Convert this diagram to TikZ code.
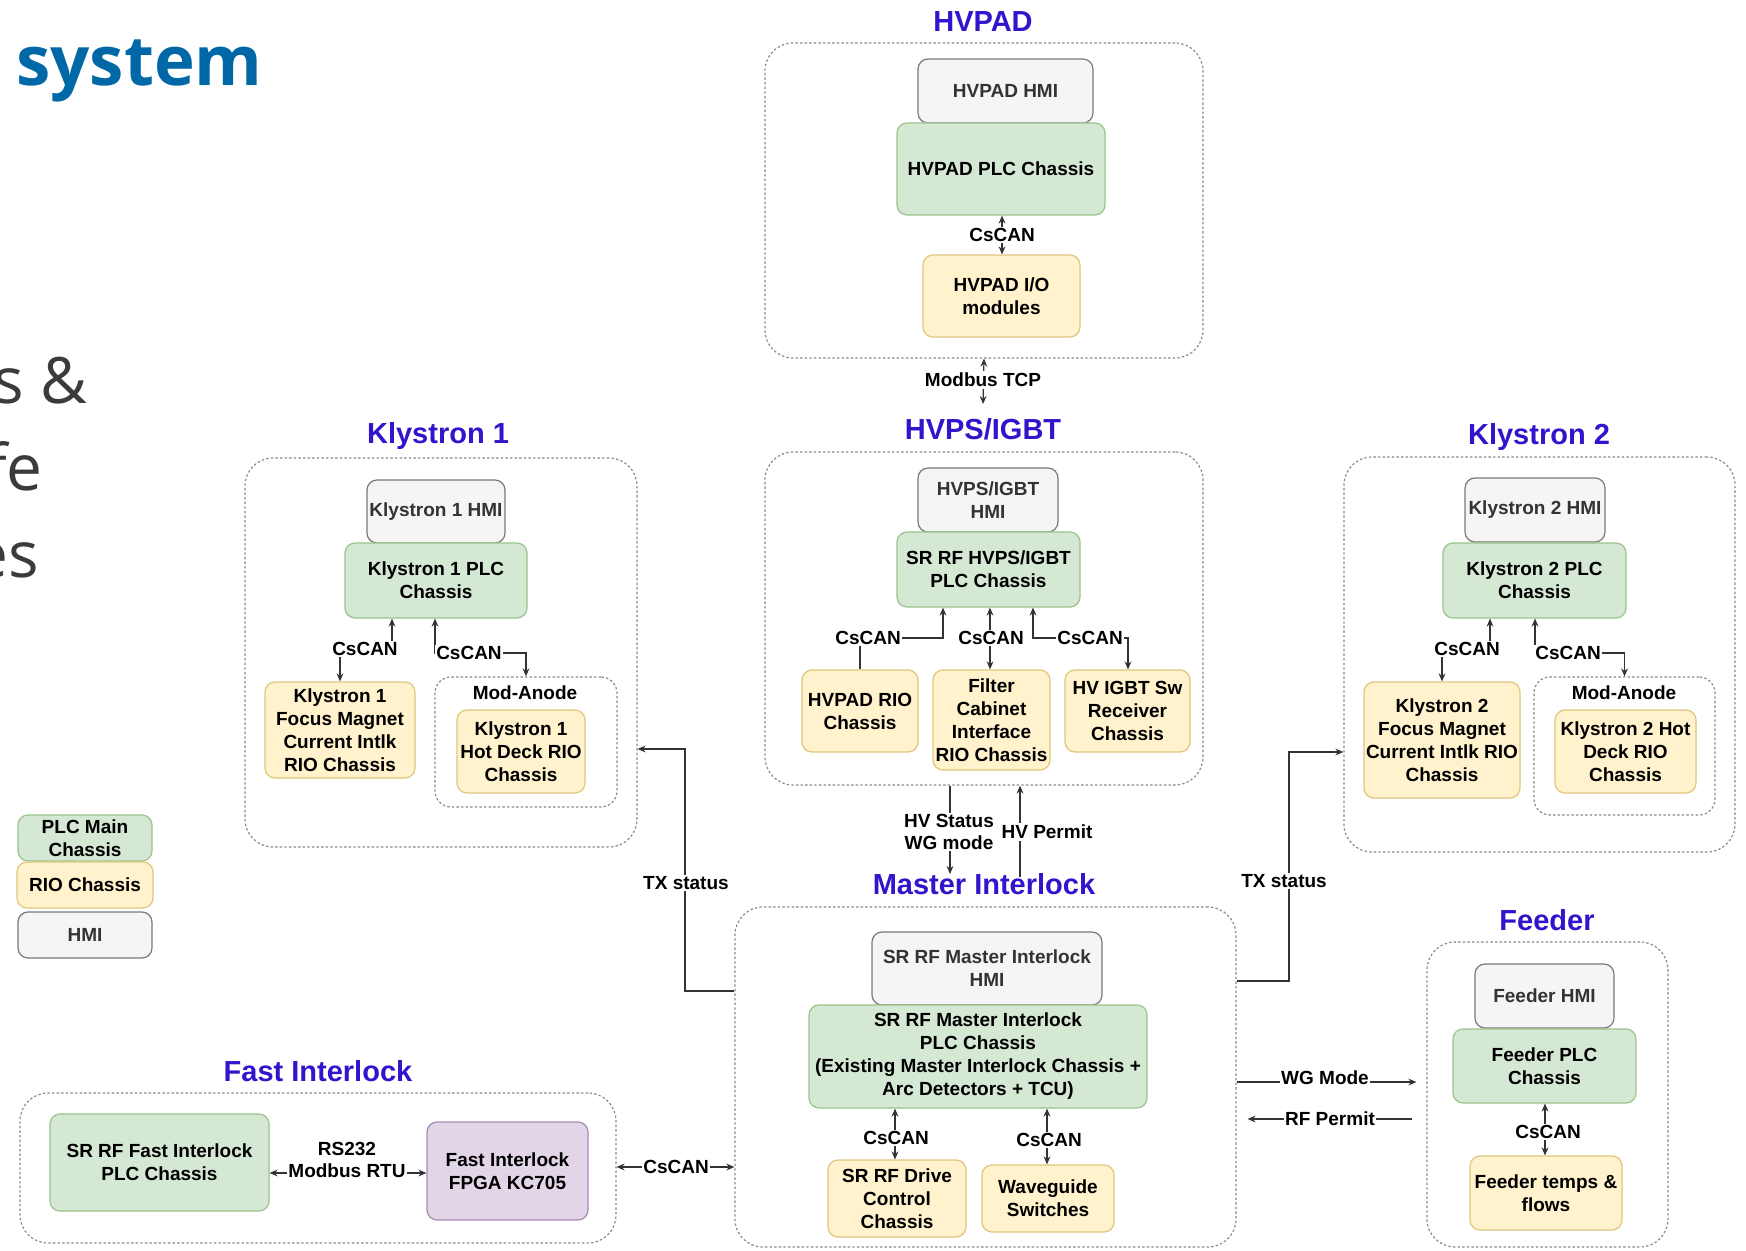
\documentclass[tikz,border=0pt]{standalone}
\usepackage{fontspec}
\setmainfont{Liberation Sans}
\newfontfamily\slidefont{Open Sans}
\usetikzlibrary{arrows.meta}

\definecolor{plcfill}{HTML}{D5E8D4}
\definecolor{plcline}{HTML}{9CC38B}
\definecolor{riofill}{HTML}{FFF2CC}
\definecolor{rioline}{HTML}{E0C77E}
\definecolor{hmifill}{HTML}{F5F5F5}
\definecolor{hmiline}{HTML}{7A7A7A}
\definecolor{fpgafill}{HTML}{E1D5E7}
\definecolor{fpgaline}{HTML}{A68BB6}
\definecolor{grpline}{HTML}{8A8A8A}
\definecolor{titleblue}{HTML}{3314CC}
\definecolor{slideblue}{HTML}{0068A6}
\definecolor{slidegray}{HTML}{3B3B3B}
\definecolor{wire}{HTML}{333333}

% box from its corners: style, name, x1, y1, x2, y2, text
\newcommand\blk[7]{\node[#1, minimum width={(#5-#3)*0.5pt}, minimum height={(#6-#4)*0.5pt}] (#2) at ({(#3+#5)/2},{(#4+#6)/2}) {#7};}

\tikzset{
  >={Stealth[length=4pt,width=3.4pt]},
  box/.style={rounded corners=5pt, line width=0.6pt, align=center, inner sep=1pt,
    font=\bfseries\fontsize{9.5}{11.5}\selectfont},
  plc/.style={box, fill=plcfill, draw=plcline},
  rio/.style={box, fill=riofill, draw=rioline},
  hmi/.style={box, fill=hmifill, draw=hmiline, text=black!80},
  fpga/.style={box, fill=fpgafill, draw=fpgaline},
  grp/.style={draw=grpline, line width=0.6pt, dash pattern=on 1.2pt off 1.1pt,
    rounded corners=14pt, inner sep=0pt},
  subgrp/.style={grp, rounded corners=8pt},
  ttl/.style={text=titleblue, font=\bfseries\fontsize{14.5}{16}\selectfont, inner sep=0pt},
  lbl/.style={fill=white, inner sep=0.8pt, align=center, font=\bfseries\fontsize{9.5}{11}\selectfont},
  plain/.style={inner sep=0pt, font=\bfseries\fontsize{9.5}{11}\selectfont},
  link/.style={draw=wire, line width=0.6pt},
  slidetext/.style={anchor=base east, inner sep=0pt, text=slidegray,
    font=\slidefont\fontsize{32}{36}\selectfont},
}

\begin{document}
\begin{tikzpicture}[x=0.5pt, y=-0.5pt]
\clip (0,0) rectangle (1746,1251);
\fill[white] (0,0) rectangle (1746,1251);

% slide text at the left edge
\node[anchor=base west, inner sep=0pt, text=slideblue, font=\slidefont\bfseries\fontsize{34.5}{38}\selectfont] (slidetitle) at (16,86) {system};
\node[slidetext] (slideA) at (88,404) {s \&};
\node[slidetext] (slideB) at (43,491) {fe};
\node[slidetext] (slideC) at (39,577) {es};

% ---------- groups ----------
\blk{grp}{gHVPAD}{765}{43}{1203}{358}{}
\blk{grp}{gHVPS}{765}{452}{1203}{785}{}
\blk{grp}{gK1}{245}{458}{637}{847}{}
\blk{subgrp}{gMA1}{435}{677}{617}{807}{}
\blk{grp}{gK2}{1344}{457}{1735}{852}{}
\blk{subgrp}{gMA2}{1534}{677}{1715}{815}{}
\blk{grp}{gMI}{735}{907}{1236}{1247}{}
\blk{grp}{gFD}{1427}{942}{1668}{1247}{}
\blk{grp}{gFI}{20}{1093}{616}{1243}{}

% ---------- titles ----------
\node[ttl] (tHVPAD) at (983,22) {HVPAD};
\node[ttl] (tHVPS) at (983,429) {HVPS/IGBT};
\node[ttl] (tK1) at (438,436) {Klystron 1};
\node[ttl] (tK2) at (1539,437) {Klystron 2};
\node[ttl] (tMI) at (984,884) {Master Interlock};
\node[ttl] (tFD) at (1547,920) {Feeder};
\node[ttl] (tFI) at (318,1071) {Fast Interlock};
\node[plain] (tMA1) at (525,693) {Mod-Anode};
\node[plain] (tMA2) at (1624,693) {Mod-Anode};

% ---------- HVPAD ----------
\blk{hmi}{hvpadHMI}{918}{59}{1093}{123}{HVPAD HMI}
\blk{plc}{hvpadPLC}{897}{123}{1105}{215}{HVPAD PLC Chassis}
\blk{rio}{hvpadIO}{923}{255}{1080}{337}{HVPAD I/O\\modules}

% ---------- HVPS/IGBT ----------
\blk{hmi}{hvpsHMI}{918}{468}{1058}{532}{HVPS/IGBT\\HMI}
\blk{plc}{hvpsPLC}{897}{532}{1080}{607}{SR RF HVPS/IGBT\\PLC Chassis}
\blk{rio}{hvpadRIO}{802}{670}{918}{752}{HVPAD RIO\\Chassis}
\blk{rio}{filterRIO}{933}{670}{1050}{770}{Filter\\Cabinet\\Interface\\RIO Chassis}
\blk{rio}{igbtRIO}{1065}{670}{1190}{752}{HV IGBT Sw\\Receiver\\Chassis}

% ---------- Klystron 1 ----------
\blk{hmi}{k1HMI}{367}{480}{505}{543}{Klystron 1 HMI}
\blk{plc}{k1PLC}{345}{543}{527}{618}{Klystron 1 PLC\\Chassis}
\blk{rio}{k1Focus}{265}{682}{415}{778}{Klystron 1\\Focus Magnet\\Current Intlk\\RIO Chassis}
\blk{rio}{k1Hot}{457}{710}{585}{793}{Klystron 1\\Hot Deck RIO\\Chassis}

% ---------- Klystron 2 ----------
\blk{hmi}{k2HMI}{1465}{478}{1605}{542}{Klystron 2 HMI}
\blk{plc}{k2PLC}{1443}{543}{1626}{618}{Klystron 2 PLC\\Chassis}
\blk{rio}{k2Focus}{1364}{682}{1520}{798}{Klystron 2\\Focus Magnet\\Current Intlk RIO\\Chassis}
\blk{rio}{k2Hot}{1555}{710}{1696}{793}{Klystron 2 Hot\\Deck RIO\\Chassis}

% ---------- Master Interlock ----------
\blk{hmi}{miHMI}{872}{932}{1102}{1005}{SR RF Master Interlock\\HMI}
\blk{plc}{miPLC}{809}{1005}{1147}{1108}{SR RF Master Interlock\\PLC Chassis\\(Existing Master Interlock Chassis +\\Arc Detectors + TCU)}
\blk{rio}{miDrive}{828}{1160}{966}{1237}{SR RF Drive\\Control\\Chassis}
\blk{rio}{miWG}{982}{1165}{1114}{1232}{Waveguide\\Switches}

% ---------- Feeder ----------
\blk{hmi}{fdHMI}{1475}{964}{1614}{1028}{Feeder HMI}
\blk{plc}{fdPLC}{1453}{1029}{1636}{1103}{Feeder PLC\\Chassis}
\blk{rio}{fdTemps}{1470}{1156}{1622}{1230}{Feeder temps \&\\flows}

% ---------- Fast Interlock ----------
\blk{plc}{fiPLC}{50}{1114}{269}{1211}{SR RF Fast Interlock\\PLC Chassis}
\blk{fpga}{fiFPGA}{427}{1122}{588}{1220}{Fast Interlock\\FPGA KC705}

% ---------- legend ----------
\blk{plc}{lgPLC}{18}{815}{152}{861}{PLC Main\\Chassis}
\blk{rio}{lgRIO}{17}{862}{153}{908}{RIO Chassis}
\blk{hmi}{lgHMI}{18}{912}{152}{958}{HMI}

% ---------- connectors ----------
\coordinate (mbEnd) at (983,404);
\coordinate (hvsEnd) at (950,874);
\coordinate (hvpStart) at (1020,877);

% HVPAD
\draw[link,<->] (1002,0 |- hvpadPLC.south) -- (1002,0 |- hvpadIO.north);
\node[lbl] (lHVPAD) at (1002,235) {CsCAN};
\draw[link,<->] (gHVPAD.south) -- (mbEnd);
\node[lbl] (lMB) at (983,380) {Modbus TCP};

% HVPS/IGBT
\draw[link,->] (hvpadRIO.north) -- (860,638) -- (943,638) -- (943,0 |- hvpsPLC.south);
\node[lbl] (lHV1) at (868,638) {CsCAN};
\draw[link,<->] (990,0 |- hvpsPLC.south) -- (990,0 |- filterRIO.north);
\node[lbl] (lHV2) at (991,638) {CsCAN};
\draw[link,<->] (1033,0 |- hvpsPLC.south) -- (1033,638) -- (1128,638) -- (1128,0 |- igbtRIO.north);
\node[lbl] (lHV3) at (1090,638) {CsCAN};

% HVPS/IGBT <-> Master Interlock
\draw[link,->] (950,0 |- gHVPS.south) -- (hvsEnd);
\node[lbl] (lHVS) at (949,832) {HV Status\\WG mode};
\draw[link,->] (hvpStart) -- (1020,0 |- gHVPS.south);
\node[lbl] (lHVP) at (1047,832) {HV Permit};

% Klystron 1
\draw[link,<->] (k1Focus.north) -- (340,649) -- (392,649) -- (392,0 |- k1PLC.south);
\node[lbl] (lK1a) at (365,649) {CsCAN};
\draw[link,<->] (435,0 |- k1PLC.south) -- (435,653) -- (526,653) -- (gMA1.north);
\node[lbl] (lK1b) at (469,653) {CsCAN};

% Klystron 2
\draw[link,<->] (k2Focus.north) -- (1442,649) -- (1490,649) -- (1490,0 |- k2PLC.south);
\node[lbl] (lK2a) at (1467,649) {CsCAN};
\draw[link,<->] (1535,0 |- k2PLC.south) -- (1535,653) -- (1624.5,653) -- (gMA2.north);
\node[lbl] (lK2b) at (1568,653) {CsCAN};

% Master Interlock
\draw[link,<->] (895,0 |- miPLC.south) -- (895,0 |- miDrive.north);
\node[lbl] (lMI1) at (896,1138) {CsCAN};
\draw[link,<->] (1047,0 |- miPLC.south) -- (1047,0 |- miWG.north);
\node[lbl] (lMI2) at (1049,1140) {CsCAN};

% TX status to the klystrons
\draw[link,->] (gMI.west |- 0,991) -- (685,991) -- (685,749) -- (gK1.east |- 0,749);
\node[lbl] (lTX1) at (686,883) {TX status};
\draw[link,->] (gMI.east |- 0,981) -- (1289,981) -- (1289,752) -- (gK2.west |- 0,752);
\node[lbl] (lTX2) at (1284,881) {TX status};

% Master Interlock <-> Feeder
\draw[link,->,shorten >=5pt] (gMI.east |- 0,1082) -- (gFD.west |- 0,1082);
\node[lbl] (lWG) at (1325,1078) {WG Mode};
\draw[link,->,shorten <=7pt,shorten >=5.5pt] (gFD.west |- 0,1119) -- (gMI.east |- 0,1119);
\node[lbl] (lRF) at (1330,1119) {RF Permit};

% Feeder
\draw[link,<->] (1545,0 |- fdPLC.south) -- (1545,0 |- fdTemps.north);
\node[lbl] (lFD) at (1548,1132) {CsCAN};

% Fast Interlock
\draw[link,<->] (fiPLC.east |- 0,1173) -- (fiFPGA.west |- 0,1173);
\node[lbl] (lRS) at (347,1160) {RS232\\Modbus RTU};
\draw[link,<->] (gFI.east |- 0,1167) -- (gMI.west |- 0,1167);
\node[lbl] (lFI) at (676,1167) {CsCAN};
\end{tikzpicture}
\end{document}
